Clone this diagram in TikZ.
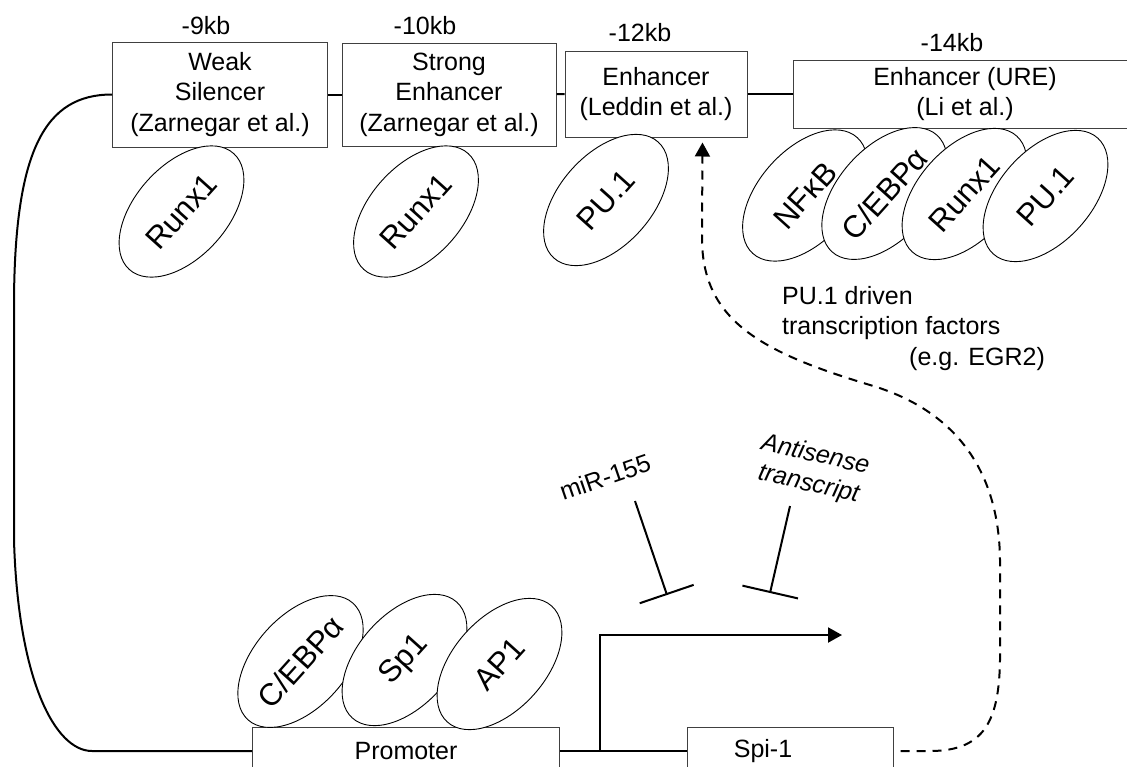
\documentclass[tikz,border=0pt]{standalone}
\usepackage{fontspec}
\setmainfont{Liberation Sans}
\usetikzlibrary{shapes.geometric, arrows.meta}

\begin{document}
\begin{tikzpicture}[
    x=1pt, y=-1pt,
    font=\fontsize{25}{30.5}\selectfont,
    region/.style={rectangle, draw=black!75, line width=1pt, align=center, inner sep=0pt},
    tf/.style={ellipse, draw, fill=white, line width=0.9pt, minimum width=156pt,
      minimum height=92pt, inner sep=0pt, rotate=48, font=\fontsize{31}{36}\selectfont},
    dna/.style={line width=2pt},
    inhib/.style={line width=2pt, -{Bar[width=57pt]}},
    tip/.style={-{Triangle[length=14pt, width=15pt]}}
  ]
  \useasboundingbox (0,0) rectangle (1127,766);

  % upstream regulatory regions
  \node[region, minimum width=215pt, minimum height=105pt] (ws) at (220,94.5) {Weak\\Silencer\\(Zarnegar et al.)};
  \node[region, minimum width=214pt, minimum height=103pt] (se) at (449,94.5) {Strong\\Enhancer\\(Zarnegar et al.)};
  \node[region, minimum width=182pt, minimum height=86pt] (le) at (656,94) {Enhancer\\(Leddin et al.)};
  \node[region, minimum width=344pt, minimum height=68pt] (ure) at (965,94) {Enhancer (URE)\\(Li et al.)};
  \node (k9) at (206,26) {-9kb};
  \node (k10) at (425,26) {-10kb};
  \node (k12) at (640,33) {-12kb};
  \node (k14) at (952,43) {-14kb};
  \draw[dna] (ws) -- (se);
  \draw[dna] (se) -- (le);
  \draw[dna] (le) -- (ure);

  % promoter and gene
  \node[region, minimum width=307pt, minimum height=48pt] (pr) at (406,751) {Promoter};
  \node[region, minimum width=206pt, minimum height=48pt] (spi) at (790,751) {Spi-1\hspace*{54pt}};
  \draw[dna] (ws.west) .. controls (45,94.5) and (15,150) .. (14,300) -- (14,540)
    .. controls (18,680) and (55,751) .. (92,751) -- (pr.west);
  \draw[dna] (pr) -- (spi);
  \coordinate (tss) at (600,751);
  \coordinate (txend) at (842,635);
  \draw[dna, tip] (tss) |- (txend);

  % bound factors
  \node[tf] (r1) at (181.5,211.5) {Runx1};
  \node[tf] (r2) at (416,211.5) {Runx1};
  \node[tf] (pu1) at (606,200) {PU.1};
  \node[tf] (nfkb) at (805,195.5) {NFκB};
  \node[tf] (cebpu) at (884.5,193.5) {C/EBPα};
  \node[tf] (runxu) at (964.5,194) {Runx1};
  \node[tf] (puu) at (1045.5,196) {PU.1};
  \node[tf] (cebp) at (300.5,661.5) {C/EBPα};
  \node[tf] (sp1) at (404.5,660) {Sp1};
  \node[tf] (ap1) at (499.5,664) {AP1};

  % repression
  \node[rotate=19] (mir) at (605,477) {miR-155};
  \node[rotate=-13, align=center, font=\fontsize{25}{30}\selectfont\itshape] (anti) at (812,470) {Antisense\\transcript};
  \coordinate (mirfrom) at (635,501);
  \coordinate (mirto) at (667,595);
  \coordinate (antifrom) at (790,506);
  \coordinate (antito) at (770,593);
  \draw[inhib] (mirfrom) -- (mirto);
  \draw[inhib] (antifrom) -- (antito);

  % feedback
  \node[align=left, anchor=north west, inner sep=0pt] (egr) at (782,286)
    {PU.1 driven\\transcription factors\\\hspace*{127pt}(e.g. EGR2)};
  \draw[dna, tip, dash pattern=on 9pt off 7pt, shorten <=7pt, shorten >=5pt] (spi.east) -- (930,751)
    .. controls (985,751) and (999,720) .. (1000,660) -- (1000,560)
    .. controls (999,470) and (955,410) .. (870,385)
    .. controls (760,352) and (703,320) .. (702,240) -- ([xshift=-45pt]le.south east);
\end{tikzpicture}
\end{document}
